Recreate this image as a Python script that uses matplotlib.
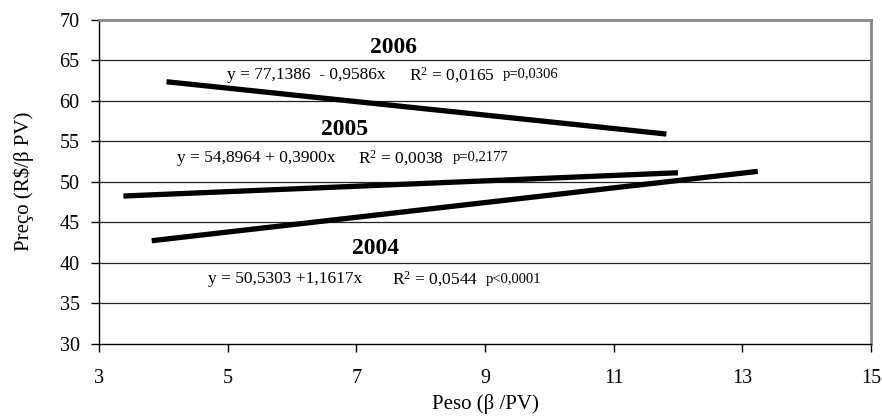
import matplotlib
matplotlib.use("Agg")
import matplotlib.pyplot as plt

plt.rcParams['font.family'] = ['Liberation Serif', 'DejaVu Serif']
plt.rcParams['mathtext.fontset'] = 'custom'
plt.rcParams['mathtext.rm'] = 'Liberation Serif'
plt.rcParams['mathtext.it'] = 'Liberation Serif:italic'

# Data: endpoints of the fitted lines
years = ["2004", "2005", "2006"]
x_2004 = [3.82, 13.24]
y_2004 = [42.73, 51.28]
x_2005 = [3.38, 12.00]
y_2005 = [48.24, 51.11]
x_2006 = [4.05, 11.82]
y_2006 = [62.33, 55.88]

eq_texts = ["y = 50,5303 +1,1617x", "y = 54,8964 + 0,3900x", "y = 77,1386  - 0,9586x"]
r2_texts = ["R$^2$ = 0,0544", "R$^2$ = 0,0038", "R$^2$ = 0,0165"]
p_texts = ["p<0,0001", "p=0,2177", "p=0,0306"]

x_ticks = [3, 5, 7, 9, 11, 13, 15]
y_ticks = [30, 35, 40, 45, 50, 55, 60, 65, 70]

fig = plt.figure(figsize=(8.82, 4.16), dpi=100)
ax = fig.add_axes([0.1122, 0.1731, 0.9875 - 0.1122, 0.9531 - 0.1731])

ax.set_xlim(3, 15)
ax.set_ylim(30, 70)
ax.set_xticks(x_ticks)
ax.set_yticks(y_ticks)
ax.tick_params(axis='both', direction='out', length=6, width=1, labelsize=14.5, colors='black')
ax.tick_params(axis='x', pad=12)
ax.tick_params(axis='y', pad=8)

for yv in y_ticks[1:-1]:
    ax.axhline(yv, color='#222222', lw=0.9, zorder=1)

for s in ['left', 'bottom']:
    ax.spines[s].set_color('black')
    ax.spines[s].set_linewidth(1.0)
for s in ['top', 'right']:
    ax.spines[s].set_color('#888888')
    ax.spines[s].set_linewidth(2.0)

for xs, ys in [(x_2004, y_2004), (x_2005, y_2005), (x_2006, y_2006)]:
    ax.plot(xs, ys, color='black', lw=3.8, solid_capstyle='butt', zorder=3)

# Year labels
year_pos = [(7.306, 41.83), (6.81, 56.44), (7.586, 66.61)]
for yr, (xx, yy) in zip(years, year_pos):
    ax.text(xx, yy, yr, fontsize=17, fontweight='bold', ha='center', va='center')

eq_pos = [(4.70, 38.01), (4.217, 52.93), (4.99, 63.16)]
r2_pos = [(7.55, 38.01), (7.02, 52.93), (7.824, 63.16)]
p_pos = [(9.016, 38.01), (8.498, 52.93), (9.28, 63.16)]
for i in range(3):
    ax.text(eq_pos[i][0], eq_pos[i][1], eq_texts[i], fontsize=12.5, ha='left', va='center')
    ax.text(r2_pos[i][0], r2_pos[i][1], r2_texts[i], fontsize=12.5, ha='left', va='center')
    ax.text(p_pos[i][0], p_pos[i][1], p_texts[i], fontsize=10.5, ha='left', va='center')

ax.set_xlabel("Peso (β /PV)", fontsize=15, labelpad=4)
ax.set_ylabel("Preço (R\\$/β PV)", fontsize=15, labelpad=18)

fig.savefig("out.png", dpi=100)
